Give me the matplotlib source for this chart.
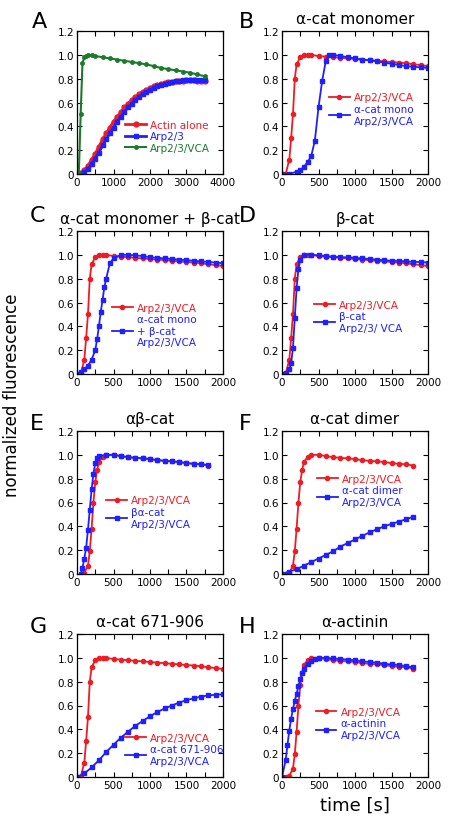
import matplotlib
matplotlib.use("Agg")
import matplotlib.pyplot as plt
from matplotlib.ticker import MultipleLocator

RED = "#ee1c25"
BLUE = "#1f1fff"
GREEN = "#1b7a2b"

# ---- panel A ----
a_vca_t = [0, 50, 100, 150, 200, 250, 300, 400, 500, 700, 900, 1100, 1300, 1500, 1700,
           1900, 2100, 2300, 2500, 2700, 2900, 3100, 3300, 3500]
a_vca = [0, 0.01, 0.50, 0.93, 0.98, 0.99, 1.0, 0.995, 0.99, 0.98, 0.97, 0.96, 0.95, 0.94,
         0.93, 0.92, 0.905, 0.89, 0.88, 0.87, 0.86, 0.85, 0.835, 0.82]
a_t = [0, 100, 200, 300, 400, 500, 600, 700, 800, 900, 1000, 1100, 1200, 1300, 1400, 1500,
       1600, 1700, 1800, 1900, 2000, 2100, 2200, 2300, 2400, 2500, 2600, 2700, 2800, 2900,
       3000, 3100, 3200, 3300, 3400, 3500]
a_actin = [0, 0.005, 0.03, 0.07, 0.12, 0.17, 0.23, 0.29, 0.34, 0.39, 0.44, 0.48, 0.52, 0.56,
           0.59, 0.62, 0.645, 0.67, 0.69, 0.705, 0.72, 0.735, 0.745, 0.755, 0.765, 0.77,
           0.775, 0.78, 0.782, 0.784, 0.785, 0.785, 0.785, 0.783, 0.782, 0.78]
a_arp = [0, 0.0, 0.015, 0.04, 0.08, 0.13, 0.18, 0.24, 0.29, 0.34, 0.39, 0.44, 0.48, 0.52,
         0.56, 0.59, 0.62, 0.645, 0.67, 0.69, 0.705, 0.72, 0.735, 0.745, 0.755, 0.765,
         0.772, 0.778, 0.782, 0.786, 0.788, 0.79, 0.79, 0.79, 0.79, 0.79]

# reference Arp2/3/VCA curve used in B, C, D, G (0-2000 s)
ref_t = [0, 50, 100, 125, 150, 175, 200, 250, 300, 350, 400, 500, 600, 700, 800, 900, 1000,
         1100, 1200, 1300, 1400, 1500, 1600, 1700, 1800, 1900, 2000]
ref_y = [0, 0.0, 0.12, 0.30, 0.50, 0.80, 0.92, 0.98, 1.0, 1.0, 1.0, 0.99, 0.985, 0.98, 0.975,
         0.97, 0.965, 0.96, 0.955, 0.95, 0.945, 0.94, 0.935, 0.93, 0.92, 0.915, 0.905]

# reference curve used in E, F, H (0-1800 s)
ref2_t = [50, 100, 150, 175, 200, 225, 250, 275, 300, 350, 400, 500, 600, 700, 800, 900,
          1000, 1100, 1200, 1300, 1400, 1500, 1600, 1700, 1800]
ref2_y = [0, 0.01, 0.07, 0.19, 0.38, 0.60, 0.77, 0.87, 0.94, 0.98, 1.0, 1.0, 0.99, 0.98,
          0.975, 0.97, 0.965, 0.955, 0.95, 0.945, 0.94, 0.93, 0.925, 0.92, 0.91]

# ---- panel B ----
b_t = [0, 100, 200, 250, 300, 350, 400, 450, 500, 550, 600, 650, 700, 800, 900, 1000, 1100,
       1200, 1300, 1400, 1500, 1600, 1700, 1800, 1900, 2000]
b_y = [0, 0.0, 0.02, 0.03, 0.06, 0.10, 0.15, 0.28, 0.56, 0.78, 0.95, 1.0, 1.0, 0.99, 0.98,
       0.97, 0.96, 0.955, 0.945, 0.935, 0.925, 0.915, 0.905, 0.9, 0.895, 0.89]

# ---- panel C ----
c_t = [0, 50, 100, 150, 200, 250, 275, 300, 325, 350, 375, 400, 450, 500, 600, 700, 800, 900,
       1000, 1100, 1200, 1300, 1400, 1500, 1600, 1700, 1800, 1900, 2000]
c_y = [0, 0.02, 0.04, 0.07, 0.12, 0.20, 0.29, 0.40, 0.52, 0.62, 0.73, 0.80, 0.93, 0.97, 1.0,
       1.0, 0.995, 0.99, 0.98, 0.975, 0.97, 0.965, 0.96, 0.955, 0.95, 0.945, 0.94, 0.935, 0.93]

# ---- panel D ----
d_t = [0, 50, 100, 125, 150, 175, 200, 225, 250, 300, 400, 500, 600, 700, 800, 900, 1000,
       1100, 1200, 1300, 1400, 1500, 1600, 1700, 1800, 1900, 2000]
d_y = [0, 0.01, 0.04, 0.09, 0.22, 0.47, 0.72, 0.88, 0.96, 1.0, 1.0, 0.995, 0.99, 0.985, 0.98,
       0.98, 0.975, 0.97, 0.965, 0.96, 0.955, 0.95, 0.95, 0.945, 0.94, 0.94, 0.935]

# ---- panel E ----
e_t = [50, 75, 100, 125, 150, 175, 200, 225, 250, 275, 300, 400, 500, 600, 700, 800, 900,
       1000, 1100, 1200, 1300, 1400, 1500, 1600, 1700, 1800]
e_y = [0, 0.05, 0.13, 0.22, 0.37, 0.54, 0.71, 0.84, 0.93, 0.97, 0.99, 1.0, 1.0, 0.99, 0.98,
       0.975, 0.97, 0.965, 0.955, 0.95, 0.945, 0.94, 0.93, 0.925, 0.92, 0.915]

# ---- panel F ----
f_t = [0, 100, 200, 300, 400, 500, 600, 700, 800, 900, 1000, 1100, 1200, 1300, 1400, 1500,
       1600, 1700, 1800]
f_y = [0, 0.02, 0.04, 0.07, 0.10, 0.13, 0.16, 0.19, 0.23, 0.26, 0.29, 0.32, 0.35, 0.375,
       0.40, 0.42, 0.44, 0.46, 0.48]

# ---- panel G ----
g_t = [0, 100, 200, 300, 400, 500, 600, 700, 800, 900, 1000, 1100, 1200, 1300, 1400, 1500,
       1600, 1700, 1800, 1900, 2000]
g_y = [0, 0.03, 0.08, 0.14, 0.21, 0.27, 0.33, 0.38, 0.43, 0.47, 0.51, 0.545, 0.575, 0.60,
       0.625, 0.645, 0.66, 0.675, 0.685, 0.69, 0.695]

# ---- panel H ----
h_t = [0, 50, 75, 100, 125, 150, 175, 200, 225, 250, 275, 300, 350, 400, 450, 500, 600, 700,
       800, 900, 1000, 1100, 1200, 1300, 1400, 1500, 1600, 1700, 1800]
h_y = [0, 0.14, 0.27, 0.39, 0.49, 0.57, 0.64, 0.70, 0.76, 0.82, 0.87, 0.91, 0.95, 0.97, 0.99,
       1.0, 1.0, 0.995, 0.99, 0.985, 0.98, 0.97, 0.965, 0.96, 0.95, 0.945, 0.94, 0.93, 0.92]

y_ticks = [0, 0.2, 0.4, 0.6, 0.8, 1.0, 1.2]
y_labels = ["0", "0.2", "0.4", "0.6", "0.8", "1.0", "1.2"]

fig = plt.figure(figsize=(4.53, 8.29), dpi=100)
W, H = 453, 829


def make_ax(left, top, xmax, xstep):
    ax = fig.add_axes([left / W, 1 - (top + 143) / H, 146 / W, 143 / H])
    ax.set_xlim(0, xmax)
    ax.set_ylim(0, 1.2)
    ax.set_xticks(range(0, xmax + 1, xstep))
    ax.xaxis.set_minor_locator(MultipleLocator(xstep / 2))
    ax.set_yticks(y_ticks)
    ax.set_yticklabels(y_labels)
    ax.tick_params(which="both", direction="in", top=True, right=True, labelsize=7.5,
                   length=3.5, width=0.8, pad=2)
    for s in ax.spines.values():
        s.set_linewidth(0.9)
    return ax


def line(ax, t, y, color, marker, label, ms=3, lw=1.3):
    ax.plot(t, y, color=color, marker=marker, ms=ms, lw=lw, label=label)


def legend(ax, x, y):
    ax.legend(loc="upper left", bbox_to_anchor=(x, y), frameon=False, fontsize=7.5,
              labelcolor="linecolor", handlelength=2.0, handletextpad=0.4,
              borderaxespad=0, borderpad=0, labelspacing=0.15)


def letter(x, y, s):
    fig.text(x / W, 1 - y / H, s, fontsize=16, va="center", ha="left")


rows = [32, 232, 432, 635]
cols = [77, 282]

# A
ax = make_ax(cols[0], rows[0], 4000, 1000)
line(ax, a_t, a_actin, RED, "o", "Actin alone", ms=3.5, lw=2.0)
line(ax, a_t, a_arp, BLUE, "s", "Arp2/3", ms=3.5, lw=2.0)
line(ax, a_vca_t, a_vca, GREEN, "o", "Arp2/3/VCA", ms=2.5, lw=1.5)
legend(ax, 0.33, 0.38)
letter(32, 22, "A")

# B
ax = make_ax(cols[1], rows[0], 2000, 500)
line(ax, ref_t, ref_y, RED, "o", "Arp2/3/VCA")
line(ax, b_t, b_y, BLUE, "s", "α-cat mono\nArp2/3/VCA")
legend(ax, 0.32, 0.57)
ax.set_title("α-cat monomer", fontsize=11, pad=6)
letter(239, 22, "B")

# C
ax = make_ax(cols[0], rows[1], 2000, 500)
line(ax, ref_t, ref_y, RED, "o", "Arp2/3/VCA")
line(ax, c_t, c_y, BLUE, "s", "α-cat mono\n+ β-cat\nArp2/3/VCA")
legend(ax, 0.24, 0.50)
ax.set_title("α-cat monomer + β-cat", fontsize=11, pad=6)
letter(30, 216, "C")

# D
ax = make_ax(cols[1], rows[1], 2000, 500)
line(ax, ref_t, ref_y, RED, "o", "Arp2/3/VCA")
line(ax, d_t, d_y, BLUE, "s", "β-cat\nArp2/3/ VCA")
legend(ax, 0.22, 0.52)
ax.set_title("β-cat", fontsize=11, pad=6)
letter(239, 216, "D")

# E
ax = make_ax(cols[0], rows[2], 2000, 500)
line(ax, ref2_t, ref2_y, RED, "o", "Arp2/3/VCA")
line(ax, e_t, e_y, BLUE, "s", "βα-cat\nArp2/3/VCA")
legend(ax, 0.20, 0.55)
ax.set_title("αβ-cat", fontsize=11, pad=6)
letter(30, 424, "E")

# F
ax = make_ax(cols[1], rows[2], 2000, 500)
line(ax, ref2_t, ref2_y, RED, "o", "Arp2/3/VCA")
line(ax, f_t, f_y, BLUE, "s", "α-cat dimer\nArp2/3/VCA")
legend(ax, 0.24, 0.70)
ax.set_title("α-cat dimer", fontsize=11, pad=6)
letter(239, 424, "F")

# G
ax = make_ax(cols[0], rows[3], 2000, 500)
line(ax, ref_t, ref_y, RED, "o", "Arp2/3/VCA")
line(ax, g_t, g_y, BLUE, "s", "α-cat 671-906\nArp2/3/VCA")
legend(ax, 0.33, 0.31)
ax.set_title("α-cat 671-906", fontsize=11, pad=6)
letter(30, 627, "G")

# H
ax = make_ax(cols[1], rows[3], 2000, 500)
line(ax, ref2_t, ref2_y, RED, "o", "Arp2/3/VCA")
line(ax, h_t, h_y, BLUE, "s", "α-actinin\nArp2/3/VCA")
legend(ax, 0.23, 0.49)
ax.set_title("α-actinin", fontsize=11, pad=6)
letter(239, 627, "H")

fig.text(12 / W, 1 - 395 / H, "normalized fluorescence", rotation=90, fontsize=12,
         va="center", ha="center")
fig.text(355 / W, 1 - 806 / H, "time [s]", fontsize=13, va="center", ha="center")

fig.savefig("out.png", dpi=100)
